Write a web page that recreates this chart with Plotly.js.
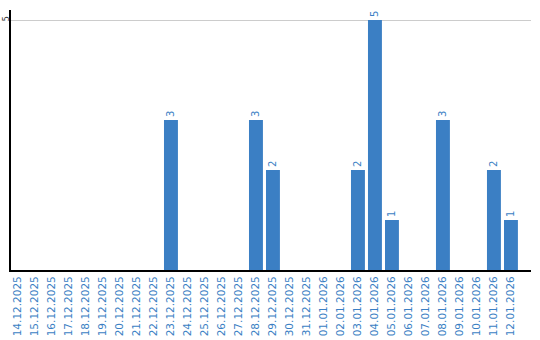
<!DOCTYPE html>
<html>
<head>
<meta charset="utf-8">
<script src="https://cdn.plot.ly/plotly-3.0.1.min.js"></script>
<style>html,body{margin:0;padding:0;background:#fff;}#chart{width:540px;height:340px;}</style>
</head>
<body>
<div id="chart"></div>
<script>
const dates = ["14.12.2025","15.12.2025","16.12.2025","17.12.2025","18.12.2025","19.12.2025","20.12.2025","21.12.2025","22.12.2025","23.12.2025","24.12.2025","25.12.2025","26.12.2025","27.12.2025","28.12.2025","29.12.2025","30.12.2025","31.12.2025","01.01.2026","02.01.2026","03.01.2026","04.01.2026","05.01.2026","06.01.2026","07.01.2026","08.01.2026","09.01.2026","10.01.2026","11.01.2026","12.01.2026"];
const counts = [0,0,0,0,0,0,0,0,0,3,0,0,0,0,3,2,0,0,0,0,2,5,1,0,0,3,0,0,2,1];
const yTicks = [5];

const blue = '#3b7fc4';
const trace = {
  type: 'bar',
  x: dates,
  y: counts,
  text: counts.map(v => v ? String(v) : ''),
  textposition: 'outside',
  textangle: -90,
  cliponaxis: false,
  textfont: {family: 'DejaVu Sans', size: 10, color: blue},
  marker: {color: blue, line: {width: 0}},
  hoverinfo: 'none'
};
const layout = {
  width: 540, height: 340,
  margin: {l: 11, r: 9, t: 10, b: 70, pad: 0},
  paper_bgcolor: '#fff', plot_bgcolor: '#fff',
  showlegend: false,
  bargap: 0.18,
  xaxis: {
    type: 'category',
    range: [-0.41, 30.18],
    tickangle: -90,
    tickfont: {family: 'DejaVu Sans', size: 10.5, color: blue},
    showline: true, linecolor: '#000', linewidth: 2,
    showgrid: false, ticks: '', ticklen: 0,
    automargin: false
  },
  yaxis: {
    range: [0, 5.2],
    tickmode: 'array', tickvals: yTicks, ticktext: yTicks.map(String),
    tickangle: -90,
    ticklabelstandoff: -3,
    tickfont: {family: 'DejaVu Sans', size: 8, color: '#333'},
    showline: true, linecolor: '#000', linewidth: 2,
    showgrid: true, gridcolor: '#cccccc', gridwidth: 1,
    zeroline: false, ticks: '',
    automargin: false
  }
};
Plotly.newPlot('chart', [trace], layout, {displayModeBar: false, staticPlot: true});
</script>
</body>
</html>
